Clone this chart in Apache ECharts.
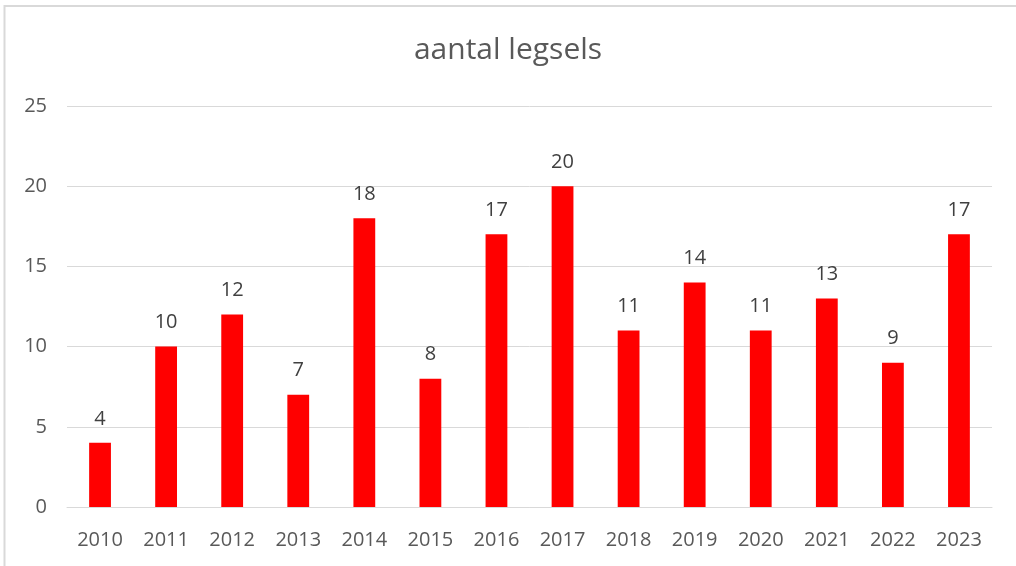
<!DOCTYPE html>
<html>
<head>
<meta charset="utf-8">
<script src="https://cdn.jsdelivr.net/npm/echarts@6/dist/echarts.min.js"></script>
<style>
html,body{margin:0;padding:0;background:#fff;}
#chart{width:1016px;height:566px;}
</style>
</head>
<body>
<div id="chart"></div>
<script>
const titleText = 'aantal legsels';
const categories = ['2010','2011','2012','2013','2014','2015','2016','2017','2018','2019','2020','2021','2022','2023'];
const values = [4,10,12,7,18,8,17,20,11,14,11,13,9,17];
const yTicks = {min:0, max:25, interval:5};

const chart = echarts.init(document.getElementById('chart'), null, {renderer:'canvas'});
chart.setOption({
  animation:false,
  backgroundColor:'#ffffff',
  title:{
    text:titleText, left:'center', top:30,
    textStyle:{fontFamily:'Open Sans', fontSize:30, fontWeight:'normal', color:'#595959'}
  },
  graphic:[{
    type:'rect', shape:{x:4.5, y:6, width:1100, height:700},
    style:{fill:'none', stroke:'#d9d9d9', lineWidth:2}, silent:true, z:-1
  }],
  grid:{left:67, right:24, top:106, bottom:59, containLabel:false},
  xAxis:{
    type:'category', data:categories,
    axisLine:{show:true, lineStyle:{color:'#d9d9d9', width:1}},
    axisTick:{show:false},
    axisLabel:{fontFamily:'Open Sans', fontSize:20, color:'#595959', margin:23}
  },
  yAxis:{
    type:'value', min:yTicks.min, max:yTicks.max, interval:yTicks.interval,
    axisLine:{show:false}, axisTick:{show:false},
    splitLine:{lineStyle:{color:'#d9d9d9', width:1}},
    axisLabel:{fontFamily:'Open Sans', fontSize:20, color:'#595959', margin:20}
  },
  series:[{
    type:'bar', data:values, barWidth:'33%',
    itemStyle:{color:'#ff0000'},
    label:{show:true, position:'top', distance:14, fontFamily:'Open Sans', fontSize:20, color:'#404040'}
  }]
});
</script>
</body>
</html>
